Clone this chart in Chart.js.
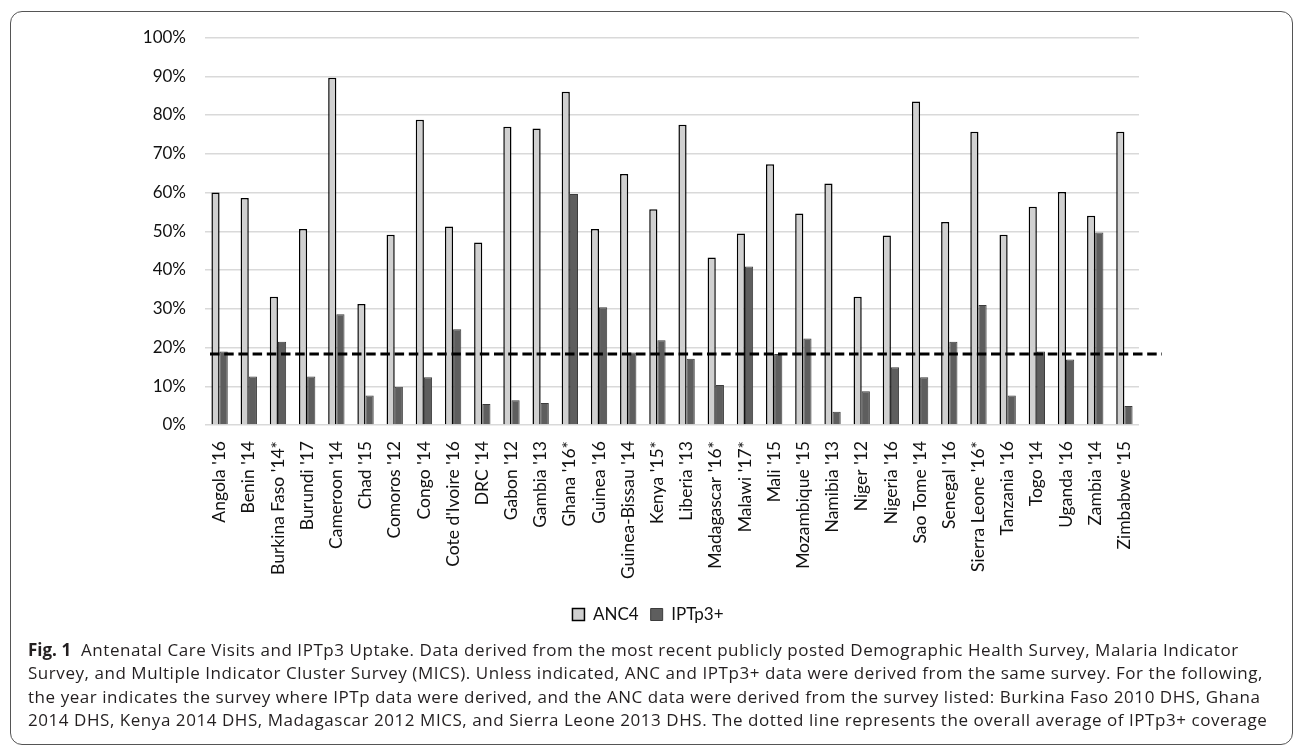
<!DOCTYPE html>
<html>
<head>
<meta charset="utf-8">
<script src="https://cdn.jsdelivr.net/npm/chart.js@4.4.1/dist/chart.umd.min.js"></script>
<style>
  html, body { margin: 0; padding: 0; background: #fff; }
  body { width: 1296px; height: 747px; position: relative; overflow: hidden; }
  #frame { position: absolute; left: 10px; top: 11px; width: 1283px; height: 734px;
           border: 1.5px solid #555; border-radius: 12px; box-sizing: border-box; }
  #wrap { position: absolute; left: 0; top: 0; width: 1296px; height: 747px; }
  #caption { position: absolute; left: 28px; top: 638px; font-family: "Open Sans", sans-serif;
             font-size: 17px; line-height: 23.3px; color: #231f20; white-space: nowrap; letter-spacing: 0.55px; }
  #caption b { font-weight: 700; letter-spacing: 0; }
</style>
</head>
<body>
<div id="frame"></div>
<div id="wrap"><canvas id="c"></canvas></div>
<div id="caption"><b>Fig. 1</b>&nbsp; Antenatal Care Visits and IPTp3 Uptake. Data derived from the most recent publicly posted Demographic Health Survey, Malaria Indicator<br>Survey, and Multiple Indicator Cluster Survey (MICS). Unless indicated, ANC and IPTp3+ data were derived from the same survey. For the following,<br>the year indicates the survey where IPTp data were derived, and the ANC data were derived from the survey listed: Burkina Faso 2010 DHS, Ghana<br>2014 DHS, Kenya 2014 DHS, Madagascar 2012 MICS, and Sierra Leone 2013 DHS. The dotted line represents the overall average of IPTp3+ coverage</div>
<script>
const categories = ["Angola '16","Benin '14","Burkina Faso '14*","Burundi '17","Cameroon '14","Chad '15","Comoros '12","Congo '14","Cote d'Ivoire '16","DRC '14","Gabon '12","Gambia '13","Ghana '16*","Guinea '16","Guinea-Bissau '14","Kenya '15*","Liberia '13","Madagascar '16*","Malawi '17*","Mali '15","Mozambique '15","Namibia '13","Niger '12","Nigeria '16","Sao Tome '14","Senegal '16","Sierra Leone '16*","Tanzania '16","Togo '14","Uganda '16","Zambia '14","Zimbabwe '15"];
const anc4 = [60.0,58.6,33.1,50.6,89.6,31.2,49.1,78.8,51.2,47.1,77.0,76.5,86.0,50.6,64.8,55.7,77.5,43.2,49.4,67.3,54.6,62.3,33.1,48.9,83.5,52.4,75.7,49.1,56.3,60.1,54.0,75.7];
const iptp3 = [19.0,12.5,21.5,12.5,28.6,7.6,9.9,12.3,24.7,5.4,6.4,5.7,59.6,30.4,18.7,21.9,17.1,10.3,40.9,18.3,22.3,3.4,8.7,14.9,12.3,21.5,31.0,7.6,19.0,16.9,49.7,4.9];
const overallAverage = 18.3;
const yTicks = [0,10,20,30,40,50,60,70,80,90,100];

const avgLine = {
  id: 'avgLine',
  afterDatasetsDraw(chart) {
    const {ctx, chartArea, scales} = chart;
    const y = scales.y.getPixelForValue(overallAverage);
    ctx.save();
    ctx.strokeStyle = '#000';
    ctx.lineWidth = 3;
    ctx.setLineDash([9.5, 4.7]);
    ctx.beginPath();
    ctx.moveTo(chartArea.left + 5, y);
    ctx.lineTo(chartArea.right + 23, y);
    ctx.stroke();
    ctx.restore();
  }
};

const font = { family: 'Lato', size: 17 };
const xFont = { family: 'Lato', size: 17.5 };
new Chart(document.getElementById('c'), {
  type: 'bar',
  data: {
    labels: categories,
    datasets: [
      { label: 'ANC4', data: anc4, backgroundColor: '#d0d0d0', borderColor: '#000', borderWidth: 1.5,
        barPercentage: 1, categoryPercentage: 0.56 },
      { label: 'IPTp3+', data: iptp3, backgroundColor: '#5e5e5e', borderColor: '#3c3c3c', borderWidth: 1,
        barPercentage: 1, categoryPercentage: 0.56 }
    ]
  },
  options: {
    responsive: true,
    maintainAspectRatio: false,
    animation: false,
    layout: { padding: { top: 37.5, bottom: 114, left: 0, right: 0 } },
    plugins: {
      legend: {
        position: 'bottom',
        labels: { font: font, color: '#111', boxWidth: 12, boxHeight: 12, padding: 12 }
      },
      tooltip: { enabled: false }
    },
    scales: {
      x: {
        grid: { display: false },
        border: { display: false },
        ticks: { font: xFont, color: '#111', minRotation: 90, maxRotation: 90, autoSkip: false, padding: 8 },
        afterFit(scale) { scale.height = 169; }
      },
      y: {
        min: 0, max: 100,
        afterBuildTicks(scale) { scale.ticks = yTicks.map(v => ({ value: v })); },
        grid: { color: '#d9d9d9', lineWidth: 1.5, drawTicks: false },
        border: { display: false },
        ticks: { font: font, color: '#111', padding: 19, callback: v => v + '%' },
        afterFit(scale) { scale.width = 205; }
      },
      yRight: {
        position: 'right',
        display: true,
        grid: { display: false },
        border: { display: false },
        ticks: { display: false },
        afterFit(scale) { scale.width = 157; }
      }
    }
  },
  plugins: [avgLine]
});
</script>
</body>
</html>
